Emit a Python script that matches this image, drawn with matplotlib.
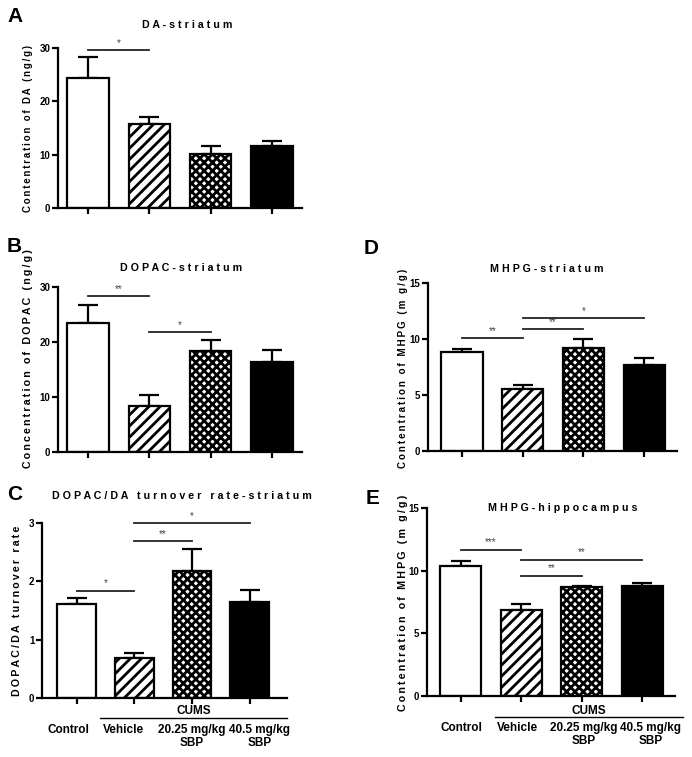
import matplotlib
matplotlib.use('Agg')
import matplotlib.pyplot as plt
from matplotlib.lines import Line2D
from matplotlib.transforms import ScaledTranslation

plt.rcParams['font.family'] = ['Liberation Sans', 'DejaVu Sans']
plt.rcParams['font.weight'] = 'bold'
plt.rcParams['hatch.linewidth'] = 2.0
plt.rcParams['hatch.color'] = 'black'

W, H = 692, 757
fig = plt.figure(figsize=(W / 100, H / 100), dpi=100)

groups = ['Control', 'Vehicle', '20.25 mg/kg\nSBP', '40.5 mg/kg\nSBP']

da_mean = [24.4, 15.8, 10.2, 11.6]
da_err = [3.9, 1.3, 1.4, 0.9]
dopac_mean = [23.5, 8.4, 18.3, 16.4]
dopac_err = [3.3, 1.9, 2.1, 2.2]
turnover_mean = [1.61, 0.69, 2.18, 1.64]
turnover_err = [0.10, 0.09, 0.37, 0.21]
mhpg_str_mean = [8.8, 5.55, 9.18, 7.69]
mhpg_str_err = [0.30, 0.32, 0.81, 0.63]
mhpg_hip_mean = [10.39, 6.87, 8.66, 8.74]
mhpg_hip_err = [0.40, 0.48, 0.13, 0.26]

sig_A = [(0, 1, 29.7, '*')]
sig_B = [(0, 1, 28.3, '**'), (1, 2, 21.8, '*')]
sig_C = [(0, 1, 1.84, '*'), (1, 2, 2.69, '**'), (1, 3, 3.0, '*')]
sig_D = [(0, 1, 10.05, '**'), (1, 2, 10.9, '**'), (1, 3, 11.9, '*')]
sig_E = [(0, 1, 11.67, '***'), (1, 2, 9.59, '**'), (1, 3, 10.87, '**')]

faces = ['white', 'white', 'white', 'black']
hatches = [None, '///', 'xxxx', None]


def px(x, y):
    return x / W, 1 - y / H


def spaced(s, sep=' '):
    return sep.join(list(s))


def panel(box, mean, err, ylim, yticks, xlim, width, sigs, title, title_xy,
          ylabel, ylabel_xy, ylabel_fs, letter, letter_xy, label_dx=None):
    l, t, r, b = box
    ax = fig.add_axes([l / W, 1 - b / H, (r - l) / W, (b - t) / H])
    x = list(range(len(mean)))
    ax.bar(x, mean, width=width, color=faces, edgecolor='black',
           linewidth=1.6, zorder=2)
    for p, h in zip(ax.patches, hatches):
        if h:
            p.set_hatch(h)
    ax.errorbar(x, mean, yerr=[[0] * len(err), err], fmt='none', ecolor='black',
                elinewidth=1.6, capsize=7, capthick=1.6, zorder=1)
    for i, j, y, s in sigs:
        ax.plot([i, j], [y, y], color='#222222', lw=1.3, clip_on=False, zorder=3)
        ax.text((i + j) / 2, y + (ylim[1] - ylim[0]) * 0.012, s, ha='center',
                va='bottom', fontsize=7, color='#444444', fontweight='normal')
    ax.set_ylim(*ylim)
    ax.set_xlim(*xlim)
    ax.set_yticks(yticks)
    ax.set_xticks(x)
    for side in ['top', 'right']:
        ax.spines[side].set_visible(False)
    for side in ['left', 'bottom']:
        ax.spines[side].set_linewidth(1.6)
    ax.tick_params(axis='y', length=4, width=1.6, pad=1.5, labelsize=7)
    ax.tick_params(axis='x', length=4, width=1.6, pad=15, labelsize=8.5)
    if label_dx is not None:
        ax.set_xticklabels(groups, linespacing=1.1)
        for lbl, dx in zip(ax.get_xticklabels(), label_dx):
            lbl.set_transform(lbl.get_transform() +
                              ScaledTranslation(dx / 100, 0, fig.dpi_scale_trans))
    else:
        ax.set_xticklabels([])
    fig.text(*px(*title_xy), spaced(title), ha='center', va='center', fontsize=7.7)
    fig.text(*px(*ylabel_xy), spaced(ylabel, '\u2009'), ha='center', va='center',
             rotation=90, fontsize=ylabel_fs)
    fig.text(*px(*letter_xy), letter, ha='left', va='top', fontsize=15)
    return ax


axA = panel((58, 48, 302, 208), da_mean, da_err, (0, 30), [0, 10, 20, 30],
            (-0.49, 3.49), 0.68, sig_A, 'DA-striatum', (187, 25),
            'Contentration of DA (ng/g)', (28, 129), 6.9, 'A', (7, 7))
axB = panel((58, 287, 302, 452), dopac_mean, dopac_err, (0, 30), [0, 10, 20, 30],
            (-0.49, 3.49), 0.68, sig_B, 'DOPAC-striatum', (181, 268),
            'Concentration of DOPAC (ng/g)', (28, 359), 7.7, 'B', (7, 237))
axC = panel((42, 523, 287, 698), turnover_mean, turnover_err, (0, 3), [0, 1, 2, 3],
            (-0.6, 3.65), 0.67, sig_C, 'DOPAC/DA turnover rate-striatum', (182, 496),
            'DOPAC/DA turnover rate', (17, 611), 7.65, 'C', (7, 485),
            label_dx=[-8, -11, 0, 10])
axD = panel((428, 283, 677, 451), mhpg_str_mean, mhpg_str_err, (0, 15), [0, 5, 10, 15],
            (-0.56, 3.54), 0.68, sig_D, 'MHPG-striatum', (547, 269),
            'Contentration of MHPG (m g/g)', (403, 368), 7.0, 'D', (364, 239))
axE = panel((427, 508, 675, 696), mhpg_hip_mean, mhpg_hip_err, (0, 15), [0, 5, 10, 15],
            (-0.56, 3.54), 0.68, sig_E, 'MHPG-hippocampus', (563, 508),
            'Contentration of MHPG (m g/g)', (403, 603), 7.7, 'E', (366, 489),
            label_dx=[1, -4, 2, 8])

for (x0, x1, yl, yt) in [(100, 287, 718, 711), (495, 683, 717, 711)]:
    fig.add_artist(Line2D([x0 / W, x1 / W], [1 - yl / H, 1 - yl / H],
                          transform=fig.transFigure, color='black', lw=1.0))
    fig.text(*px((x0 + x1) / 2, yt), 'CUMS', ha='center', va='center', fontsize=8.5)

fig.savefig('out.png', dpi=100)
